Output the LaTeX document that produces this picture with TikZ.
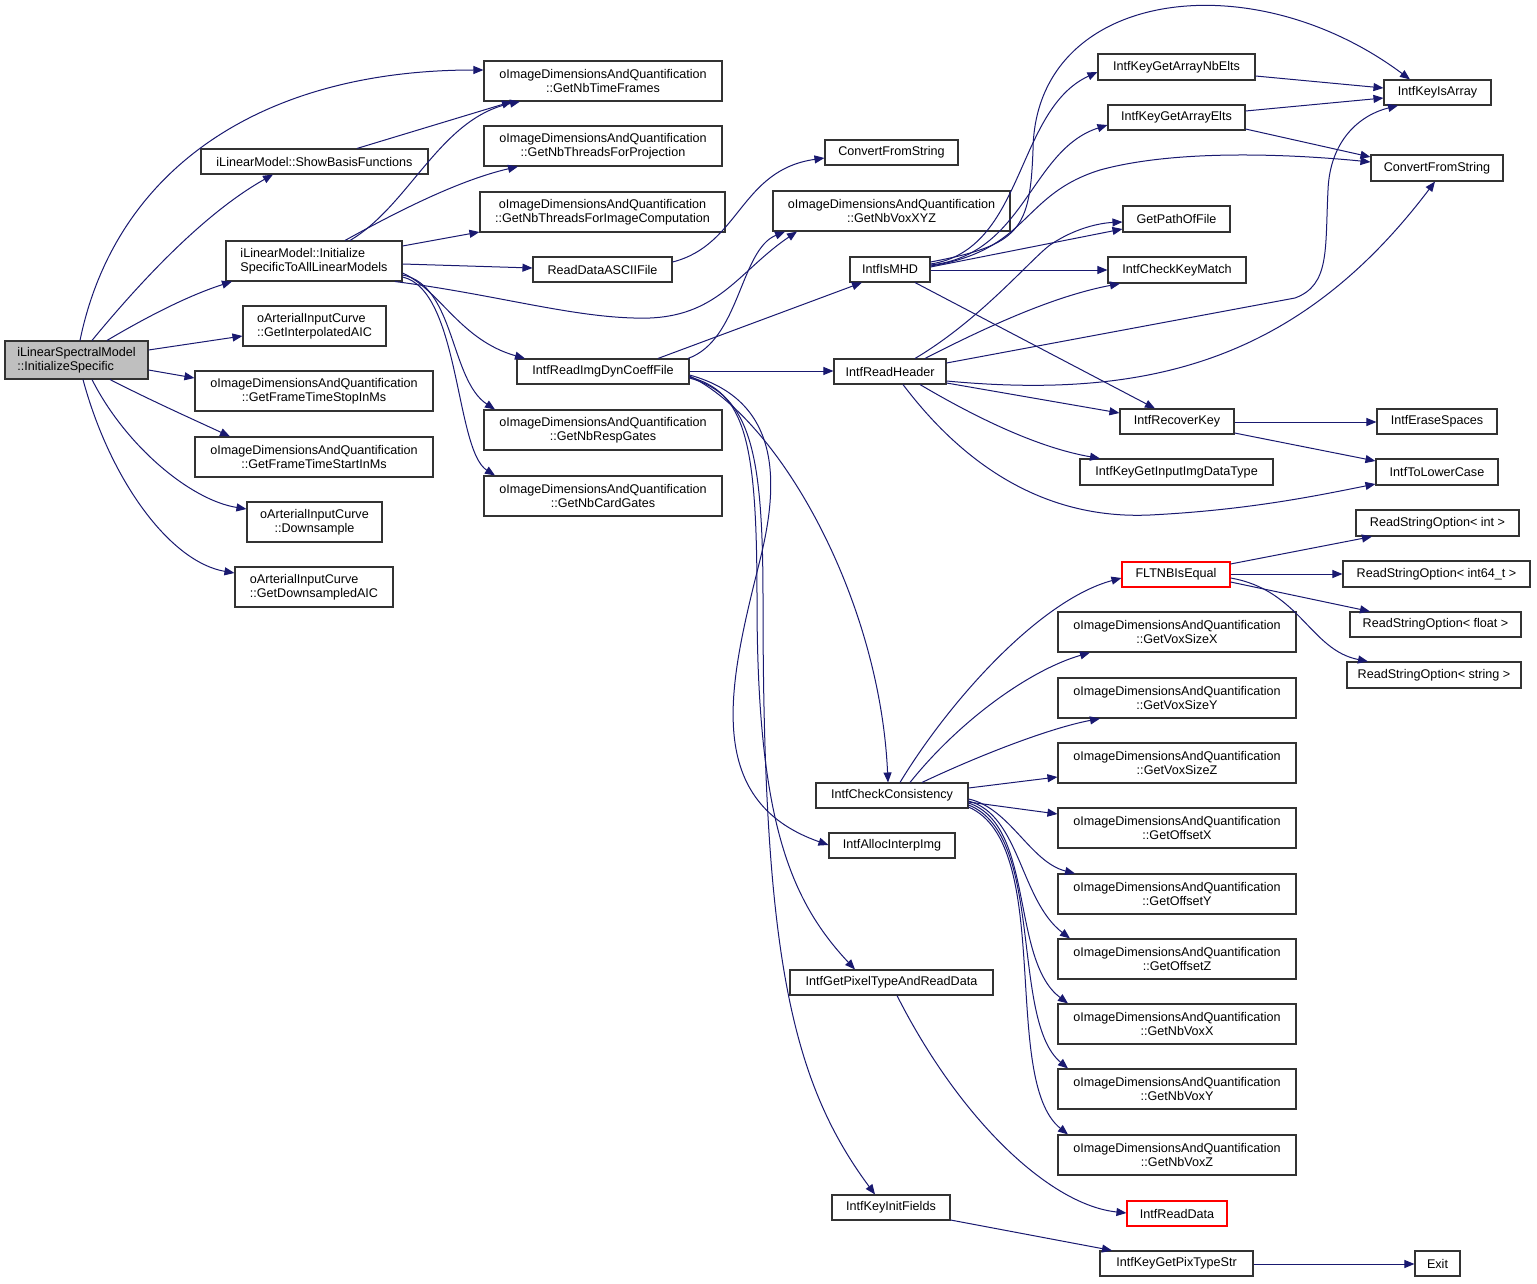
\documentclass[tikz,border=0pt]{standalone}
\usepackage{fontspec}
\setmainfont{Liberation Sans}
\usetikzlibrary{arrows.meta}
\definecolor{edgeblue}{HTML}{191970}
\definecolor{rootgray}{HTML}{BFBFBF}
\definecolor{redborder}{HTML}{FF0000}
\definecolor{boxborder}{HTML}{333333}
\tikzset{
  fn/.style={draw=boxborder, line width=1.1pt, rectangle, inner sep=0pt, align=center,
    font=\fontsize{12.6}{14.5}\selectfont},
  fnl/.style={fn, align=left},
  sz/.style 2 args={minimum width=#1pt, minimum height=#2pt},
  rootbox/.style={fill=rootgray},
  redbox/.style={draw=redborder},
  e/.style={draw=edgeblue, line width=1pt, -{Triangle[length=10pt,width=8pt]}, fill=none},
}
\begin{document}
\begin{tikzpicture}[x=1pt,y=-1pt]
\useasboundingbox (0,0) rectangle (1537,1284);
\fill[white] (0,0) rectangle (1537,1284);
% column 1
\node[fnl,rootbox,sz={143}{38}] (root) at (76.5,360) {iLinearSpectralModel\\::InitializeSpecific};
% column 2
\node[fn,sz={227}{25}] (show) at (314.5,161.5) {iLinearModel::ShowBasisFunctions};
\node[fnl,sz={176}{40}] (init) at (314,261) {iLinearModel::Initialize\\SpecificToAllLinearModels};
\node[fnl,sz={143}{40}] (interp) at (314.5,326) {oArterialInputCurve\\::GetInterpolatedAIC};
\node[fn,sz={238}{40}] (stop) at (314,391) {oImageDimensionsAndQuantification\\::GetFrameTimeStopInMs};
\node[fn,sz={238}{40}] (start) at (314,457) {oImageDimensionsAndQuantification\\::GetFrameTimeStartInMs};
\node[fn,sz={135}{40}] (down) at (314.5,522) {oArterialInputCurve\\::Downsample};
\node[fnl,sz={158}{40}] (dsaic) at (314,587) {oArterialInputCurve\\::GetDownsampledAIC};
% column 3
\node[fn,sz={238}{40}] (ntf) at (603,81) {oImageDimensionsAndQuantification\\::GetNbTimeFrames};
\node[fn,sz={238}{40}] (ntp) at (603,146) {oImageDimensionsAndQuantification\\::GetNbThreadsForProjection};
\node[fn,sz={245}{40}] (ntic) at (602.5,212) {oImageDimensionsAndQuantification\\::GetNbThreadsForImageComputation};
\node[fn,sz={139}{25}] (rdascii) at (602.5,269.5) {ReadDataASCIIFile};
\node[fn,sz={172}{25}] (rdyn) at (603,371.5) {IntfReadImgDynCoeffFile};
\node[fn,sz={238}{40}] (resp) at (603,430) {oImageDimensionsAndQuantification\\::GetNbRespGates};
\node[fn,sz={238}{40}] (card) at (603,496) {oImageDimensionsAndQuantification\\::GetNbCardGates};
% column 4
\node[fn,sz={133}{25}] (cfs1) at (891.5,152.5) {ConvertFromString};
\node[fn,sz={237}{40}] (xyz) at (891.5,211) {oImageDimensionsAndQuantification\\::GetNbVoxXYZ};
\node[fn,sz={80}{25}] (ismhd) at (890,269.5) {IntfIsMHD};
\node[fn,sz={112}{25}] (rhead) at (890,371.5) {IntfReadHeader};
\node[fn,sz={152}{25}] (chk) at (892,795.5) {IntfCheckConsistency};
\node[fn,sz={126}{25}] (alloc) at (892,845.5) {IntfAllocInterpImg};
\node[fn,sz={203}{25}] (pix) at (891.5,982.5) {IntfGetPixelTypeAndReadData};
\node[fn,sz={118}{25}] (kinit) at (891,1207.5) {IntfKeyInitFields};
% column 5
\node[fn,sz={157}{26}] (nbelts) at (1176.5,67) {IntfKeyGetArrayNbElts};
\node[fn,sz={137}{25}] (elts) at (1176.5,117.5) {IntfKeyGetArrayElts};
\node[fn,sz={107}{26}] (path) at (1176.5,219) {GetPathOfFile};
\node[fn,sz={138}{26}] (ckm) at (1177,270) {IntfCheckKeyMatch};
\node[fn,sz={114}{25}] (rkey) at (1177,421.5) {IntfRecoverKey};
\node[fn,sz={193}{26}] (inimg) at (1176.5,472) {IntfKeyGetInputImgDataType};
\node[fn,redbox,sz={108}{25}] (flt) at (1176,574.5) {FLTNBIsEqual};
\node[fn,sz={238}{40}] (vsx) at (1177,632) {oImageDimensionsAndQuantification\\::GetVoxSizeX};
\node[fn,sz={238}{40}] (vsy) at (1177,698) {oImageDimensionsAndQuantification\\::GetVoxSizeY};
\node[fn,sz={238}{40}] (vsz) at (1177,763) {oImageDimensionsAndQuantification\\::GetVoxSizeZ};
\node[fn,sz={238}{40}] (ofx) at (1177,828) {oImageDimensionsAndQuantification\\::GetOffsetX};
\node[fn,sz={238}{40}] (ofy) at (1177,894) {oImageDimensionsAndQuantification\\::GetOffsetY};
\node[fn,sz={238}{40}] (ofz) at (1177,959) {oImageDimensionsAndQuantification\\::GetOffsetZ};
\node[fn,sz={238}{40}] (nvx) at (1177,1024) {oImageDimensionsAndQuantification\\::GetNbVoxX};
\node[fn,sz={238}{40}] (nvy) at (1177,1089) {oImageDimensionsAndQuantification\\::GetNbVoxY};
\node[fn,sz={238}{40}] (nvz) at (1177,1155) {oImageDimensionsAndQuantification\\::GetNbVoxZ};
\node[fn,redbox,sz={100}{25}] (rdata) at (1177,1213.5) {IntfReadData};
\node[fn,sz={153}{25}] (pts) at (1176.5,1263.5) {IntfKeyGetPixTypeStr};
% column 6
\node[fn,sz={107}{25}] (isarr) at (1437.5,92.5) {IntfKeyIsArray};
\node[fn,sz={132}{26}] (cfs2) at (1437,168) {ConvertFromString};
\node[fn,sz={120}{25}] (erase) at (1437,421.5) {IntfEraseSpaces};
\node[fn,sz={122}{26}] (lower) at (1437,472) {IntfToLowerCase};
\node[fn,sz={163}{26}] (rsoint) at (1437.5,523) {ReadStringOption< int >};
\node[fn,sz={187}{26}] (rso64) at (1436.5,574) {ReadStringOption< int64\_t >};
\node[fn,sz={171}{25}] (rsofl) at (1435.5,624.5) {ReadStringOption< float >};
\node[fn,sz={174}{26}] (rsostr) at (1434,675) {ReadStringOption< string >};
\node[fn,sz={45}{25}] (exit) at (1437.5,1263.5) {Exit};

% ---- edges from root
\draw[e] (root.north -| 80,0) .. controls (115,170) and (260,70) .. (ntf.west |- 0,70);
\draw[e] (root.north -| 92,0) .. controls (150,270) and (210,210) .. (show.south -| 273,0);
\draw[e] (root.north -| 107,0) .. controls (150,315) and (190,295) .. (init.south -| 232,0);
\draw[e] (root.east |- 0,350) -- (interp.west |- 0,336);
\draw[e] (root.east |- 0,370) -- (stop.west |- 0,378);
\draw[e] (root.south -| 110,0) .. controls (150,400) and (190,418) .. (start.north -| 230,0);
\draw[e] (root.south -| 92,0) .. controls (125,445) and (190,500) .. (down.west |- 0,509);
\draw[e] (root.south -| 83,0) .. controls (110,480) and (170,562) .. (dsaic.west |- 0,573);

% ---- second column
\draw[e] (show.north -| 357,0) -- (ntf.south -| 512,0);
\draw[e] (init.north -| 350,0) .. controls (410,205) and (440,118) .. (ntf.south -| 520,0);
\draw[e] (init.north -| 345,0) .. controls (400,210) and (460,180) .. (ntp.south -| 518,0);
\draw[e] (init.east |- 0,246) -- (ntic.west |- 0,232);
\draw[e] (init.east |- 0,264) -- (rdascii.west |- 0,268);
\draw[e] (init.south -| 395,0) .. controls (500,295) and (580,320) .. (650,318) .. controls (720,315) and (740,270) .. (xyz.south -| 797,0);
\draw[e] (init.east |- 0,273) .. controls (440,290) and (460,340) .. (rdyn.north -| 525,0);
\draw[e] (init.east |- 0,275) .. controls (455,285) and (450,380) .. (resp.north -| 495,0);
\draw[e] (init.east |- 0,277) .. controls (460,290) and (455,450) .. (card.north -| 495,0);

% ---- third column
\draw[e] (rdascii.east |- 0,262) .. controls (740,245) and (740,170) .. (cfs1.west |- 0,158);
\draw[e] (rdyn.north -| 688,0) .. controls (740,340) and (740,250) .. (xyz.south -| 785,0);
\draw[e] (rdyn.north -| 658,0) -- (ismhd.south -| 862,0);
\draw[e] (rdyn.east |- 0,371) -- (rhead.west |- 0,371);
\draw[e] (rdyn.east |- 0,376) .. controls (780,420) and (880,600) .. (chk.north -| 888,0);
\draw[e] (rdyn.east |- 0,375) .. controls (780,400) and (780,480) .. (760,560) .. controls (730,680) and (700,800) .. (alloc.west |- 0,845);
\draw[e] (rdyn.east |- 0,377) .. controls (745,392) and (757,440) .. (757,600) .. controls (757,820) and (790,900) .. (pix.north -| 855,0);
\draw[e] (rdyn.east |- 0,378) .. controls (750,395) and (763,450) .. (763,600) .. controls (763,950) and (790,1080) .. (kinit.north -| 875,0);

% ---- IntfIsMHD
\draw[e] (ismhd.east |- 0,262) .. controls (1020,245) and (1030,230) .. (1033,150) .. controls (1035,-10) and (1250,-40) .. (isarr.north -| 1410,0);
\draw[e] (ismhd.east |- 0,264) .. controls (1025,250) and (1015,110) .. (nbelts.west |- 0,72);
\draw[e] (ismhd.east |- 0,265) .. controls (1025,255) and (1030,150) .. (elts.west |- 0,125);
\draw[e] (ismhd.east |- 0,266) .. controls (1030,250) and (1020,195) .. (1100,170) .. controls (1180,148) and (1300,155) .. (cfs2.west |- 0,162);
\draw[e] (ismhd.east |- 0,267) -- (path.west |- 0,229);
\draw[e] (ismhd.east |- 0,270) -- (ckm.west |- 0,270);
\draw[e] (ismhd.south -| 915,0) -- (rkey.north -| 1155,0);

% ---- IntfReadHeader
\draw[e] (rhead.north -| 915,0) .. controls (980,320) and (1030,260) .. (1050,245) .. controls (1075,228) and (1100,223) .. (path.west |- 0,222);
\draw[e] (rhead.north -| 925,0) .. controls (1000,320) and (1060,295) .. (ckm.south -| 1120,0);
\draw[e] (rhead.east |- 0,363) -- (1295,298) .. controls (1330,285) and (1325,250) .. (1328,190) .. controls (1330,140) and (1360,115) .. (isarr.south -| 1398,0);
\draw[e] (rhead.east |- 0,381) .. controls (1150,400) and (1300,360) .. (cfs2.south -| 1435,0);
\draw[e] (rhead.east |- 0,383) -- (rkey.west |- 0,413);
\draw[e] (rhead.south -| 920,0) .. controls (980,420) and (1040,448) .. (inimg.north -| 1100,0);
\draw[e] (rhead.south -| 903,0) .. controls (960,460) and (1040,520) .. (1150,515) .. controls (1250,510) and (1320,495) .. (lower.west |- 0,484);

% ---- fifth column
\draw[e] (nbelts.east |- 0,76) -- (isarr.west |- 0,88);
\draw[e] (elts.east |- 0,111) -- (isarr.west |- 0,98);
\draw[e] (elts.east |- 0,129) -- (cfs2.west |- 0,157);
\draw[e] (rkey.east |- 0,422) -- (erase.west |- 0,422);
\draw[e] (rkey.east |- 0,433) -- (lower.west |- 0,461);

% ---- FLTNBIsEqual
\draw[e] (flt.east |- 0,564) -- (rsoint.south -| 1372,0);
\draw[e] (flt.east |- 0,574) -- (rso64.west |- 0,574);
\draw[e] (flt.east |- 0,582) -- (rsofl.north -| 1370,0);
\draw[e] (flt.east |- 0,578) .. controls (1300,590) and (1310,650) .. (rsostr.north -| 1368,0);

% ---- IntfCheckConsistency
\draw[e] (chk.north -| 900,0) .. controls (950,700) and (1040,600) .. (flt.west |- 0,578);
\draw[e] (chk.north -| 910,0) .. controls (960,720) and (1030,670) .. (vsx.south -| 1090,0);
\draw[e] (chk.north -| 922,0) .. controls (980,755) and (1050,728) .. (vsy.south -| 1100,0);
\draw[e] (chk.east |- 0,788) -- (vsz.west |- 0,777);
\draw[e] (chk.east |- 0,802) -- (ofx.west |- 0,814);
\draw[e] (chk.east |- 0,799) .. controls (1010,808) and (1030,862) .. (ofy.north -| 1075,0);
\draw[e] (chk.east |- 0,801) .. controls (1020,815) and (1020,900) .. (ofz.north -| 1070,0);
\draw[e] (chk.east |- 0,803) .. controls (1035,825) and (1010,960) .. (nvx.north -| 1068,0);
\draw[e] (chk.east |- 0,805) .. controls (1045,835) and (1010,1020) .. (nvy.north -| 1068,0);
\draw[e] (chk.east |- 0,807) .. controls (1055,845) and (1000,1080) .. (nvz.north -| 1068,0);

% ---- bottom
\draw[e] (pix.south -| 897,0) .. controls (960,1120) and (1050,1205) .. (rdata.west |- 0,1213);
\draw[e] (kinit.east |- 0,1220) -- (pts.north -| 1112,0);
\draw[e] (pts.east |- 0,1264) -- (exit.west |- 0,1264);
\end{tikzpicture}
\end{document}
